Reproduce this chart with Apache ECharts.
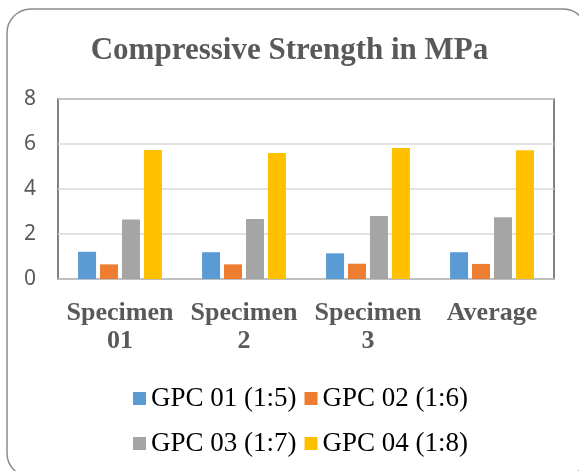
<!DOCTYPE html>
<html>
<head>
<meta charset="utf-8">
<script src="https://cdn.jsdelivr.net/npm/echarts@6/dist/echarts.min.js"></script>
<style>
html,body{margin:0;padding:0;background:#fff;}
#main{width:579px;height:471px;}
</style>
</head>
<body>
<div id="main"></div>
<script>
var categories = ['Specimen\n01', 'Specimen\n2', 'Specimen\n3', 'Average'];
var seriesNames = ['GPC 01 (1:5)', 'GPC 02 (1:6)', 'GPC 03 (1:7)', 'GPC 04 (1:8)'];
var gpc01 = [1.21, 1.19, 1.14, 1.19];
var gpc02 = [0.65, 0.65, 0.68, 0.67];
var gpc03 = [2.64, 2.67, 2.80, 2.74];
var gpc04 = [5.73, 5.60, 5.82, 5.72];
var colors = ['#5b9bd5', '#ed7d31', '#a5a5a5', '#ffc000'];

var myChart = echarts.init(document.getElementById('main'));

function bar(name, d, c){
    return {
        name: name,
        type: 'bar',
        data: d,
        barWidth: 18,
        barGap: '22%',
        itemStyle: {color: c},
        animation: false
    };
}

var legendText = {fontFamily: 'Liberation Serif', fontSize: 27, color: '#000'};

var option = {
    graphic: [{
        type: 'rect',
        shape: {x: 7, y: 9, width: 580, height: 468, r: 24},
        style: {fill: 'none', stroke: '#8c8c8c', lineWidth: 1.5},
        z: -1
    }],
    title: {
        text: 'Compressive Strength in MPa',
        left: 'center',
        top: 30,
        textStyle: {fontFamily: 'Liberation Serif', fontWeight: 'bold', fontSize: 31, color: '#595959'}
    },
    legend: [{
        data: [seriesNames[0], seriesNames[1]],
        left: 128, top: 380,
        itemWidth: 13, itemHeight: 13, itemGap: 8,
        icon: 'rect',
        textStyle: legendText
    }, {
        data: [seriesNames[2], seriesNames[3]],
        left: 128, top: 425,
        itemWidth: 13, itemHeight: 13, itemGap: 8,
        icon: 'rect',
        textStyle: legendText
    }],
    grid: {
        left: 58, right: 25, top: 99, bottom: 192,
        show: true, borderColor: '#595959', borderWidth: 1.5
    },
    xAxis: {
        type: 'category',
        data: categories,
        axisTick: {show: false},
        axisLine: {lineStyle: {color: '#bfbfbf', width: 1.5}},
        axisLabel: {
            interval: 0,
            margin: 20,
            verticalAlign: 'top',
            fontFamily: 'Liberation Serif', fontWeight: 'bold', fontSize: 26,
            lineHeight: 28, color: '#595959'
        }
    },
    yAxis: {
        type: 'value',
        min: 0, max: 8, interval: 2,
        axisLine: {show: false},
        axisTick: {show: false},
        splitLine: {lineStyle: {color: '#d9d9d9', width: 1.5}},
        axisLabel: {margin: 22, fontFamily: 'Noto Sans', fontSize: 21, color: '#595959'}
    },
    series: [
        bar(seriesNames[0], gpc01, colors[0]),
        bar(seriesNames[1], gpc02, colors[1]),
        bar(seriesNames[2], gpc03, colors[2]),
        bar(seriesNames[3], gpc04, colors[3])
    ]
};
myChart.setOption(option);
</script>
</body>
</html>
